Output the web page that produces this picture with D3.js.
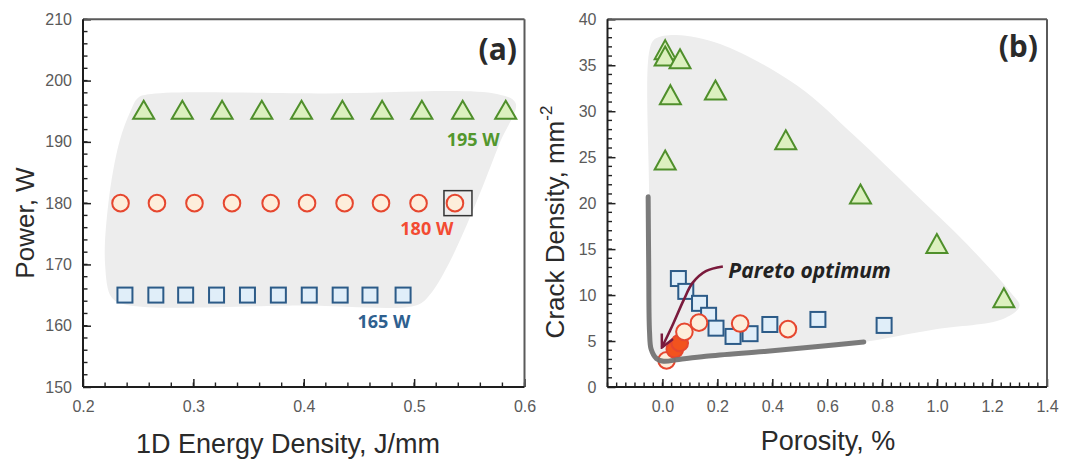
<!DOCTYPE html>
<html>
<head>
<meta charset="utf-8">
<script src="https://cdn.jsdelivr.net/npm/d3@7"></script>
<style>
  body { margin: 0; background: #fff; }
  svg { display: block; }
</style>
</head>
<body>
<svg id="chart" width="1065" height="461"></svg>
<script>
// ---------- data: panel (a) power vs 1D energy density ----------
const energy195 = [0.255, 0.290, 0.326, 0.362, 0.398, 0.435, 0.471, 0.507, 0.544, 0.583];
const energy180 = [0.234, 0.267, 0.301, 0.335, 0.370, 0.403, 0.437, 0.470, 0.504, 0.537];
const energy165 = [0.238, 0.266, 0.293, 0.321, 0.349, 0.377, 0.405, 0.433, 0.460, 0.490];
const powerLevels = [195, 180, 165];
const powerLabels = ["195 W", "180 W", "165 W"];
const selectedIndex180 = 9;                 // boxed parameter set
// process window outline (energy, power)
const windowA = [[0.262, 197.8], [0.42, 197.9], [0.575, 197.8], [0.592, 196.3], [0.578, 190],
  [0.556, 180], [0.531, 170], [0.514, 165], [0.503, 163.4], [0.40, 163.3], [0.24, 163.4],
  [0.226, 164.6], [0.220, 170], [0.223, 180], [0.233, 190], [0.243, 195], [0.250, 197.2]];

// ---------- data: panel (b) crack density vs porosity ----------
const porosity195 = [0.010, 0.010, 0.064, 0.029, 0.193, 0.010, 0.449, 0.721, 0.999, 1.243];
const crack195    = [36.7, 36.0, 35.7, 31.8, 32.3, 24.7, 26.9, 21.0, 15.6, 9.7];
const porosity180 = [0.015, 0.045, 0.063, 0.080, 0.133, 0.283, 0.457];
const crack180    = [2.9, 4.1, 4.8, 6.0, 7.0, 6.9, 6.3];
const optimum180  = [false, true, true, false, false, false, false];
const porosity165 = [0.058, 0.085, 0.135, 0.168, 0.195, 0.257, 0.319, 0.391, 0.566, 0.807];
const crack165    = [11.8, 10.4, 9.1, 7.8, 6.4, 5.5, 5.8, 6.8, 7.35, 6.7];
// explored region and Pareto front (porosity, crack density)
const windowB = [[-0.046, 36.8], [-0.025, 37.9], [0.05, 38.3], [0.21, 37.3], [0.49, 32.8],
  [0.70, 27.3], [0.91, 21.3], [1.11, 15.5], [1.27, 10.2], [1.30, 8.8], [1.24, 7.4],
  [1.0, 6.3], [0.85, 5.5], [0.733, 4.9], [0.566, 4.4], [0.381, 3.9], [0.158, 3.4],
  [0.06, 3.0], [0.0, 2.9], [-0.035, 3.5], [-0.046, 5.0], [-0.048, 20]];
const paretoFront = [[-0.052, 20.7], [-0.050, 13.1], [-0.047, 6.0], [-0.041, 4.1], [-0.022, 3.1],
  [0.004, 2.8], [0.06, 3.0], [0.158, 3.35], [0.381, 3.9], [0.566, 4.4], [0.733, 4.9]];
const arrowPath = [[0.22, 13.1], [0.158, 12.6], [0.109, 11.3], [0.078, 9.5], [0.035, 6.6], [-0.002, 4.3]];

// ---------- axes ticks ----------
const xTicksA = [0.2, 0.3, 0.4, 0.5, 0.6];
const yTicksA = [150, 160, 170, 180, 190, 200, 210];
const xTicksB = [0.0, 0.2, 0.4, 0.6, 0.8, 1.0, 1.2, 1.4];
const yTicksB = [0, 5, 10, 15, 20, 25, 30, 35, 40];

// ---------- styling ----------
const C = {
  triStroke: "#4f8f2b", triFill: "#dcf0bf",
  cirStroke: "#e6472f", cirFill: "#fdeedb", cirOpt: "#f2531e",
  sqStroke: "#2c5b88", sqFill: "#e0eef9",
  shade: "#ededed", front: "#747474", arrow: "#7a1a3c",
  tick: "#5a5a5a", title: "#2a2a2a"
};
const svg = d3.select("#chart");

function triPath(w, h) { return `M0,${-h / 2}L${w / 2},${h / 2}L${-w / 2},${h / 2}Z`; }

function drawFrame(g, x, y, xt, yt, xMinorStep, yMinorStep, xFmt, yFmt) {
  const [x0, x1] = x.range(), [y0, y1] = y.range();
  // minor ticks
  const xm = d3.range(x.domain()[0], x.domain()[1] + 1e-9, xMinorStep);
  const ym = d3.range(y.domain()[0], y.domain()[1] + 1e-9, yMinorStep);
  g.append("g").selectAll("line").data(xm).join("line")
    .attr("x1", d => x(d)).attr("x2", d => x(d)).attr("y1", y0).attr("y2", y0 - 4.5)
    .attr("stroke", "#222").attr("stroke-width", 1.4);
  g.append("g").selectAll("line").data(ym).join("line")
    .attr("y1", d => y(d)).attr("y2", d => y(d)).attr("x1", x0).attr("x2", x0 + 4.5)
    .attr("stroke", "#222").attr("stroke-width", 1.4);
  // major ticks + labels
  const ax = d3.axisBottom(x).tickValues(xt).tickSizeInner(-8).tickSizeOuter(0).tickPadding(13.5).tickFormat(xFmt);
  const ay = d3.axisLeft(y).tickValues(yt).tickSizeInner(-8).tickSizeOuter(0).tickPadding(11).tickFormat(yFmt);
  const gx = g.append("g").attr("transform", `translate(0,${y0})`).call(ax);
  const gy = g.append("g").attr("transform", `translate(${x0},0)`).call(ay);
  [gx, gy].forEach(s => {
    s.select(".domain").remove();
    s.selectAll(".tick line").attr("stroke", "#222").attr("stroke-width", 1.5);
    s.selectAll(".tick text").attr("fill", C.tick).style("font-family", "Liberation Sans, Arial, sans-serif").style("font-size", "16px");
  });
  // frame
  g.append("line").attr("x1", x0).attr("x2", x1).attr("y1", y1).attr("y2", y1).attr("stroke", "#5a5a5a").attr("stroke-width", 2);
  g.append("line").attr("x1", x1).attr("x2", x1).attr("y1", y1).attr("y2", y0).attr("stroke", "#5a5a5a").attr("stroke-width", 2);
  g.append("line").attr("x1", x0).attr("x2", x1).attr("y1", y0).attr("y2", y0).attr("stroke", "#1e1e1e").attr("stroke-width", 2);
  g.append("line").attr("x1", x0).attr("x2", x0).attr("y1", y1).attr("y2", y0).attr("stroke", "#1e1e1e").attr("stroke-width", 2);
}

// ================= panel (a) =================
const xA = d3.scaleLinear().domain([0.2, 0.6]).range([83, 524.5]);
const yA = d3.scaleLinear().domain([150, 210]).range([387, 19.3]);
const gA = svg.append("g");

gA.append("path").datum(windowA)
  .attr("d", d3.line().x(d => xA(d[0])).y(d => yA(d[1])).curve(d3.curveCatmullRomClosed.alpha(0.5)))
  .attr("fill", C.shade);

drawFrame(gA, xA, yA, xTicksA, yTicksA, 0.02, 2, d3.format(".1f"), d3.format("d"));

gA.append("g").selectAll("path").data(energy195).join("path")
  .attr("d", triPath(21, 18))
  .attr("transform", d => `translate(${xA(d)},${yA(powerLevels[0]) - 1.5})`)
  .attr("fill", C.triFill).attr("stroke", C.triStroke).attr("stroke-width", 2).attr("stroke-linejoin", "miter");
gA.append("g").selectAll("circle").data(energy180).join("circle")
  .attr("cx", d => xA(d)).attr("cy", yA(powerLevels[1])).attr("r", 8.3)
  .attr("fill", C.cirFill).attr("stroke", C.cirStroke).attr("stroke-width", 2);
gA.append("g").selectAll("rect").data(energy165).join("rect")
  .attr("x", d => xA(d) - 7.5).attr("y", yA(powerLevels[2]) - 7.5).attr("width", 15).attr("height", 15)
  .attr("fill", C.sqFill).attr("stroke", C.sqStroke).attr("stroke-width", 2);
// selection box
gA.append("rect")
  .attr("x", xA(energy180[selectedIndex180]) - 11).attr("y", yA(powerLevels[1]) - 12.5)
  .attr("width", 28).attr("height", 25)
  .attr("fill", "none").attr("stroke", "#333").attr("stroke-width", 1.5);

const labelColors = [C.triStroke, C.cirStroke, C.sqStroke];
const labelAnchors = [[0.5775, 35], [0.5355, 32], [0.4966, 33]];
gA.append("g").selectAll("text").data(powerLabels).join("text")
  .attr("x", (d, i) => xA(labelAnchors[i][0]))
  .attr("y", (d, i) => yA(powerLevels[i]) + labelAnchors[i][1])
  .attr("text-anchor", "end")
  .attr("fill", (d, i) => d3.color(labelColors[i]).brighter(0.15))
  .style("font-family", "Open Sans, sans-serif").style("font-weight", 700).style("font-size", "18px")
  .text(d => d);

gA.append("text").attr("x", 517).attr("y", 60).attr("text-anchor", "end")
  .attr("fill", "#2a2a2a").style("font-family", "Open Sans, sans-serif").style("font-weight", 700).style("font-size", "30px")
  .text("(a)");

gA.append("text").attr("x", 288).attr("y", 453).attr("text-anchor", "middle")
  .attr("fill", C.title).style("font-family", "Liberation Sans, Arial, sans-serif").style("font-size", "27px")
  .text("1D Energy Density, J/mm");
gA.append("text").attr("transform", "translate(34,223) rotate(-90)").attr("text-anchor", "middle")
  .attr("fill", C.title).style("font-family", "Liberation Sans, Arial, sans-serif").style("font-size", "26px")
  .text("Power, W");

// ================= panel (b) =================
const xB = d3.scaleLinear().domain([-0.2, 1.4]).range([607.5, 1047]);
const yB = d3.scaleLinear().domain([0, 40]).range([387, 19.3]);
const gB = svg.append("g");

gB.append("path").datum(windowB)
  .attr("d", d3.line().x(d => xB(d[0])).y(d => yB(d[1])).curve(d3.curveCatmullRomClosed.alpha(0.5)))
  .attr("fill", C.shade);

drawFrame(gB, xB, yB, xTicksB, yTicksB, 0.2 / 6, 1, d3.format(".1f"), d3.format("d"));

const pts195 = porosity195.map((p, i) => [p, crack195[i]]);
const pts180 = porosity180.map((p, i) => [p, crack180[i], optimum180[i]]);
const pts165 = porosity165.map((p, i) => [p, crack165[i]]);

gB.append("g").selectAll("path").data(pts195).join("path")
  .attr("d", triPath(21, 19))
  .attr("transform", d => `translate(${xB(d[0])},${yB(d[1])})`)
  .attr("fill", C.triFill).attr("stroke", C.triStroke).attr("stroke-width", 2);
gB.append("g").selectAll("rect").data(pts165).join("rect")
  .attr("x", d => xB(d[0]) - 7.5).attr("y", d => yB(d[1]) - 7.5).attr("width", 15).attr("height", 15)
  .attr("fill", C.sqFill).attr("stroke", C.sqStroke).attr("stroke-width", 2);
gB.append("g").selectAll("circle").data(pts180).join("circle")
  .attr("cx", d => xB(d[0])).attr("cy", d => yB(d[1])).attr("r", 8.3)
  .attr("fill", d => d[2] ? C.cirOpt : C.cirFill).attr("stroke", C.cirStroke).attr("stroke-width", 2);

gB.append("path").datum(paretoFront)
  .attr("d", d3.line().x(d => xB(d[0])).y(d => yB(d[1])).curve(d3.curveCatmullRom.alpha(0.5)))
  .attr("fill", "none").attr("stroke", C.front).attr("stroke-width", 5).attr("stroke-linecap", "round")
  .attr("stroke-opacity", 0.95);

svg.append("defs").append("marker").attr("id", "arrowhead")
  .attr("viewBox", "0 0 10 10").attr("refX", 9).attr("refY", 5)
  .attr("markerWidth", 6).attr("markerHeight", 6).attr("orient", "auto")
  .append("path").attr("d", "M1,1L9,5L1,9").attr("fill", "none").attr("stroke", C.arrow).attr("stroke-width", 1.6);
gB.append("path").datum(arrowPath)
  .attr("d", d3.line().x(d => xB(d[0])).y(d => yB(d[1])).curve(d3.curveCatmullRom.alpha(0.5)))
  .attr("fill", "none").attr("stroke", C.arrow).attr("stroke-width", 2.6)
  .attr("marker-end", "url(#arrowhead)");

gB.append("text").attr("x", xB(0.24)).attr("y", 278)
  .attr("fill", "#222").style("font-family", "Open Sans, sans-serif").style("font-weight", 700)
  .style("font-style", "italic").style("font-size", "21px")
  .text("Pareto optimum");

gB.append("text").attr("x", 1038).attr("y", 57).attr("text-anchor", "end")
  .attr("fill", "#2a2a2a").style("font-family", "Open Sans, sans-serif").style("font-weight", 700).style("font-size", "30px")
  .text("(b)");

gB.append("text").attr("x", 828).attr("y", 450).attr("text-anchor", "middle")
  .attr("fill", C.title).style("font-family", "Liberation Sans, Arial, sans-serif").style("font-size", "27px")
  .text("Porosity, %");
const yTitleB = gB.append("text").attr("transform", "translate(564,222) rotate(-90)").attr("text-anchor", "middle")
  .attr("fill", C.title).style("font-family", "Liberation Sans, Arial, sans-serif").style("font-size", "26px");
yTitleB.append("tspan").text("Crack Density, mm");
yTitleB.append("tspan").attr("dy", "-0.7em").style("font-size", "17px").text("-2");
</script>
</body>
</html>
